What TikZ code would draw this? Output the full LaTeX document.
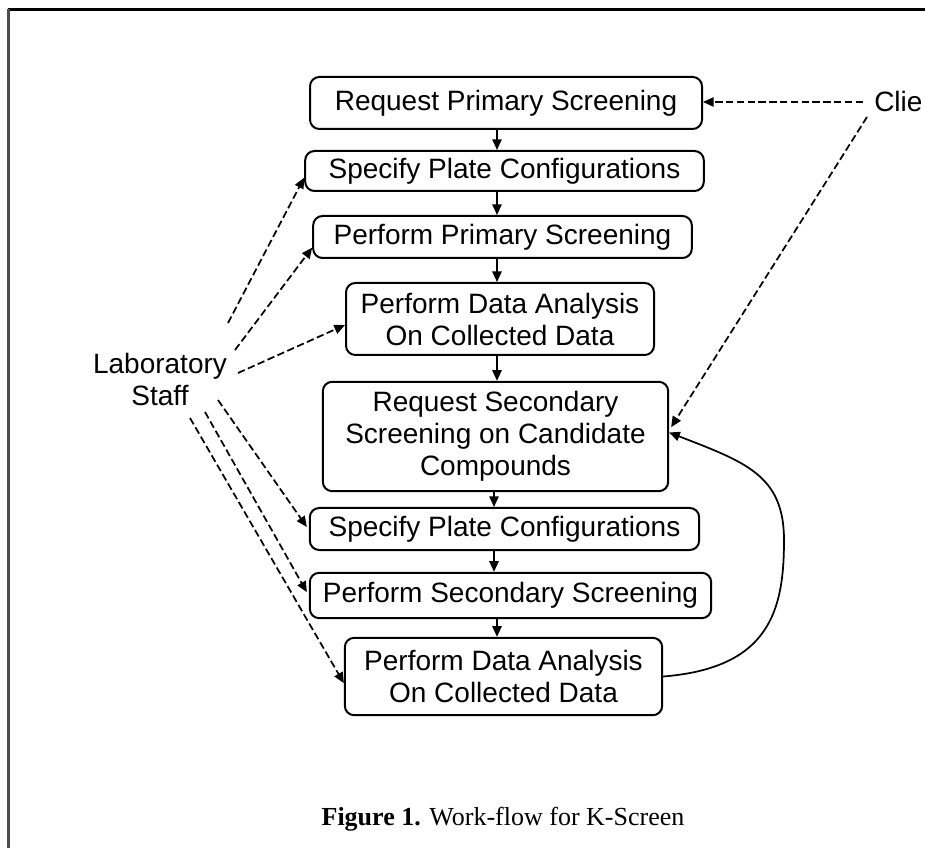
\documentclass[tikz,border=0pt]{standalone}
\usepackage{fontspec}
\setmainfont{Liberation Sans}
\newfontfamily\capfont{Liberation Serif}
\usetikzlibrary{arrows.meta,calc}

\begin{document}
\begin{tikzpicture}[x=0.75pt,y=-0.75pt,
  stepbox/.style={draw,line width=1.5pt,rounded corners=7pt,inner sep=0pt,
    align=center,font=\fontsize{21}{24}\selectfont},
  flow/.style={line width=1.3pt,-{Triangle[length=8pt,width=7pt]}},
  actor/.style={line width=1.3pt,dash pattern=on 5.5pt off 2.6pt,
    -{Triangle[length=8pt,width=7pt]}},
  label/.style={inner sep=0pt,align=center,font=\fontsize{21}{24}\selectfont}]

\useasboundingbox (0,0) rectangle (925,848);

% page frame (top and left edges)
\draw[line width=2pt] (8,9.5) -- (925,9.5);
\draw[line width=2pt,black!70] (8.5,9) -- (8.5,848);

% workflow steps
\node[stepbox,minimum width=294pt,minimum height=39pt] (b1) at (506,103)
  {Request Primary Screening};
\node[stepbox,minimum width=299pt,minimum height=30pt] (b2) at (504.5,171)
  {Specify Plate Configurations};
\node[stepbox,minimum width=284pt,minimum height=31.5pt] (b3) at (502.5,237)
  {Perform Primary Screening};
\node[stepbox,minimum width=231pt,minimum height=54pt] (b4) at (500,319)
  {Perform Data Analysis\\On Collected Data};
\node[stepbox,minimum width=259pt,minimum height=82pt] (b5) at (495.5,436.5)
  {Request Secondary\\Screening on Candidate\\Compounds};
\node[stepbox,minimum width=292pt,minimum height=31.5pt] (b6) at (504.5,529)
  {Specify Plate Configurations};
\node[stepbox,minimum width=301pt,minimum height=34pt] (b7) at (510.5,595.5)
  {Perform Secondary Screening};
\node[stepbox,minimum width=238pt,minimum height=58pt] (b8) at (503.5,676.5)
  {Perform Data Analysis\\On Collected Data};

% actors
\node[label] (staff) at (160,379) {Laboratory\\Staff};
\node[label,anchor=west] (client) at (874,101) {Clie};

% main sequence
\coordinate (spine) at (497,0);
\draw[flow] (b1.south -| spine) -- (b2.north -| spine);
\draw[flow] (b2.south -| spine) -- (b3.north -| spine);
\draw[flow] (b3.south -| spine) -- (b4.north -| spine);
\draw[flow] (b4.south -| spine) -- (b5.north -| spine);
\coordinate (spineb) at (494,0);
\draw[flow] (b5.south -| spineb) -- (b6.north -| spineb);
\draw[flow] (b6.south -| spineb) -- (b7.north -| spineb);
\coordinate (spinec) at (497,0);
\draw[flow] (b7.south -| spinec) -- (b8.north -| spinec);

% loop back from the secondary analysis
\draw[flow] (b8.east) .. controls (770,668) and (784,610) .. (784,540)
  .. controls (784,475) and (745,462) .. ([yshift=3pt]b5.east);

% staff responsibilities
\coordinate (s1) at (228,323);
\coordinate (s2) at (235,350);
\coordinate (s3) at (238,373);
\coordinate (s4) at (218,400);
\coordinate (s5) at (205,412);
\coordinate (s6) at (190,418);
\draw[actor] (s1) -- ([yshift=-5pt]b2.west);
\draw[actor] (s2) -- ([yshift=-8pt]b3.west);
\draw[actor] (s3) -- ([yshift=-4.5pt]b4.west);
\draw[actor] (s4) -- ([xshift=-1.5pt,yshift=1.5pt]b6.west);
\draw[actor] (s5) -- ([xshift=-1.5pt,yshift=2.5pt]b7.west);
\draw[actor] (s6) -- ([yshift=-5pt]b8.west);

% client responsibilities
\coordinate (c1) at (863,102);
\coordinate (c2) at (867,117);
\draw[actor] (c1) -- (b1.east |- c1);
\draw[actor] (c2) -- ([xshift=1.5pt,yshift=7pt]b5.east);

% caption
\node[inner sep=0pt,font=\capfont\fontsize{19.5}{22}\selectfont] (cap) at (503,819)
  {\textbf{Figure 1.} Work-flow for K-Screen};
\end{tikzpicture}
\end{document}
